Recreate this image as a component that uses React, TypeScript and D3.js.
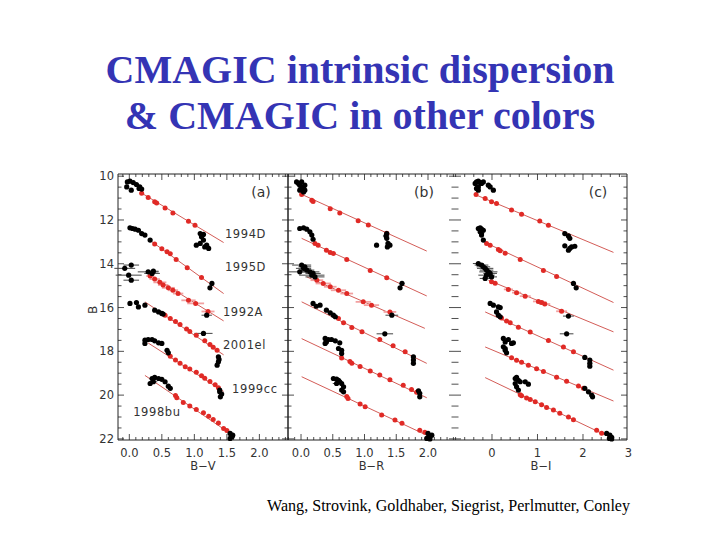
import React from "react";
import * as d3 from "d3";

type Pt = [number, number, number]; // colour, B, colour error
type Fit = [number, number, number, number]; // c0, B0, c1, B1

const SN_NAMES = ["1994D", "1995D", "1992A", "2001el", "1999cc", "1998bu"];
const B_TICKS = [10, 12, 14, 16, 18, 20, 22];
const BV_TICKS = [0, 0.5, 1, 1.5, 2];
const BR_TICKS = [0, 0.5, 1, 1.5, 2];
const BI_TICKS = [0, 1, 2, 3];
const PANEL_TAGS = ["(a)", "(b)", "(c)"];
const AXIS_TITLES = ["B\u2212V", "B\u2212R", "B\u2212I"];
const TITLE_LINES = ["CMAGIC intrinsic dispersion", "& CMAGIC in other colors"];
const CREDIT = "Wang, Strovink, Goldhaber, Siegrist, Perlmutter, Conley";

// ---------- panel (a): B vs B-V ----------
const BV_FIT: Fit[] = [
  [0.16, 10.72, 1.45, 13.03],
  [0.35, 13.0, 1.45, 15.36],
  [0.32, 14.52, 1.45, 16.61],
  [0.24, 15.74, 1.45, 18.16],
  [0.29, 17.62, 1.45, 19.83],
  [0.24, 19.1, 1.55, 21.75],
];
const BV_RED: Pt[][] = [
  [[0.19, 10.78, 0], [0.29, 10.97, 0], [0.39, 11.17, 0], [0.42, 11.22, 0], [0.55, 11.45, 0], [0.67, 11.68, 0], [0.91, 12.06, 0], [1.01, 12.24, 0]],
  [[0.39, 13.1, 0], [0.5, 13.31, 0], [0.58, 13.45, 0], [0.63, 13.54, 0], [0.72, 13.8, 0], [0.89, 14.18, 0], [1.11, 14.63, 0]],
  [[0.32, 14.56, 0.06], [0.39, 14.7, 0.08], [0.47, 14.85, 0.1], [0.52, 14.97, 0.08], [0.6, 15.1, 0.1], [0.67, 15.21, 0.08], [0.75, 15.36, 0.08], [0.91, 15.67, 0.11], [1.02, 15.81, 0.13], [1.21, 16.18, 0.1]],
  [[0.55, 16.35, 0], [0.63, 16.5, 0], [0.71, 16.64, 0], [0.78, 16.78, 0], [0.88, 16.98, 0], [0.93, 17.09, 0], [1.03, 17.26, 0], [1.16, 17.52, 0], [1.24, 17.69, 0], [1.29, 17.81, 0], [1.35, 17.95, 0]],
  [[0.63, 18.22, 0], [0.71, 18.4, 0], [0.78, 18.55, 0], [0.86, 18.7, 0], [0.93, 18.81, 0], [1.03, 18.96, 0], [1.11, 19.12, 0], [1.16, 19.23, 0], [1.24, 19.38, 0], [1.32, 19.53, 0], [1.37, 19.66, 0]],
  [[0.71, 20.02, 0], [0.73, 20.12, 0], [0.83, 20.34, 0], [0.93, 20.5, 0], [1.03, 20.66, 0], [1.14, 20.8, 0], [1.22, 20.96, 0], [1.29, 21.11, 0], [1.37, 21.27, 0], [1.45, 21.52, 0], [1.5, 21.62, 0]],
];
const BV_EARLY: Pt[][] = [
  [[-0.03, 10.26, 0], [0.01, 10.23, 0], [0.06, 10.29, 0], [0.11, 10.38, 0], [0.16, 10.49, 0], [-0.04, 10.49, 0], [0.03, 10.64, 0], [0.15, 10.56, 0], [0.19, 10.59, 0]],
  [[0.01, 12.36, 0], [0.05, 12.39, 0], [0.09, 12.42, 0], [0.14, 12.47, 0], [0.19, 12.62, 0], [0.24, 12.69, 0], [0.32, 12.92, 0]],
  [[-0.07, 14.21, 0.16], [0.03, 14.06, 0.12], [-0.01, 14.52, 0.2], [0.03, 14.75, 0.12], [0.29, 14.37, 0.16], [0.35, 14.44, 0.12], [0.37, 14.34, 0.08]],
  [[0.01, 15.81, 0], [0.11, 15.77, 0], [0.14, 15.97, 0], [0.24, 15.89, 0], [0.39, 16.12, 0], [0.45, 16.2, 0], [0.5, 16.27, 0], [0.52, 16.3, 0]],
  [[0.24, 17.64, 0], [0.24, 17.49, 0], [0.29, 17.46, 0], [0.35, 17.46, 0], [0.39, 17.52, 0], [0.45, 17.61, 0], [0.5, 17.64, 0], [0.58, 17.95, 0], [0.6, 18.07, 0]],
  [[0.35, 19.24, 0], [0.39, 19.19, 0], [0.45, 19.24, 0], [0.5, 19.28, 0], [0.55, 19.39, 0], [0.6, 19.59, 0], [0.63, 19.69, 0], [0.37, 19.39, 0.06], [0.32, 19.47, 0]],
];
const BV_LATE: Pt[][] = [
  [[1.09, 12.62, 0], [1.11, 12.77, 0], [1.14, 12.66, 0.04], [1.03, 13.15, 0], [1.16, 13.23, 0], [1.22, 13.3, 0], [1.14, 12.92, 0], [1.19, 13.15, 0], [1.09, 13.07, 0]],
  [[1.27, 14.9, 0.03], [1.24, 15.1, 0]],
  [[1.19, 16.35, 0.08]],
  [[1.14, 17.18, 0.14], [1.37, 18.25, 0], [1.37, 18.48, 0], [1.35, 18.63, 0], [1.38, 18.37, 0]],
  [[1.39, 19.77, 0], [1.42, 19.95, 0], [1.4, 20.08, 0], [1.39, 19.85, 0]],
  [[1.55, 21.75, 0], [1.58, 21.9, 0], [1.55, 21.98, 0], [1.59, 21.83, 0]],
];

// ---------- panel (b): B vs B-R ----------
const BR_FIT: Fit[] = [
  [-0.02, 10.79, 1.98, 13.42],
  [0.01, 12.84, 1.98, 15.47],
  [0.09, 14.6, 1.95, 16.95],
  [0.01, 15.74, 1.98, 18.55],
  [0.01, 17.42, 1.98, 20.12],
  [0.01, 19.16, 2.03, 21.9],
];
const BR_RED: Pt[][] = [
  [[0.01, 10.84, 0], [0.17, 11.1, 0], [0.19, 11.16, 0], [0.46, 11.49, 0], [0.61, 11.68, 0], [0.9, 12.03, 0], [1.06, 12.23, 0], [1.35, 12.61, 0]],
  [[0.22, 13.07, 0], [0.27, 13.15, 0], [0.4, 13.38, 0], [0.46, 13.48, 0], [0.51, 13.53, 0], [0.72, 13.8, 0], [1.09, 14.31, 0], [1.35, 14.64, 0]],
  [[0.25, 14.75, 0.1], [0.35, 14.9, 0.12], [0.46, 15.05, 0.1], [0.59, 15.21, 0.12], [0.72, 15.36, 0.1], [0.98, 15.74, 0.12], [1.11, 15.89, 0.12], [1.4, 16.2, 0.1]],
  [[0.59, 16.5, 0], [0.67, 16.7, 0], [0.8, 16.91, 0], [0.96, 17.11, 0], [1.24, 17.46, 0], [1.45, 17.75, 0], [1.64, 18.02, 0]],
  [[0.64, 18.3, 0], [0.77, 18.47, 0], [0.8, 18.54, 0], [0.93, 18.69, 0], [1.09, 18.9, 0], [1.24, 19.08, 0], [1.4, 19.3, 0], [1.61, 19.55, 0], [1.74, 19.74, 0], [1.82, 19.87, 0]],
  [[0.72, 20.06, 0], [0.74, 20.15, 0], [0.93, 20.41, 0], [1.01, 20.53, 0], [1.27, 20.91, 0], [1.48, 21.14, 0], [1.59, 21.29, 0], [1.87, 21.6, 0], [1.95, 21.7, 0]],
];
const BR_EARLY: Pt[][] = [
  [[-0.07, 10.26, 0], [-0.04, 10.33, 0], [-0.02, 10.41, 0], [0.01, 10.49, 0], [0.04, 10.56, 0], [0.06, 10.64, 0], [0.04, 10.72, 0], [-0.02, 10.64, 0], [0.01, 10.26, 0], [0.06, 10.41, 0]],
  [[-0.02, 12.39, 0], [0.04, 12.36, 0], [0.09, 12.42, 0], [0.14, 12.54, 0], [0.17, 12.69, 0], [0.19, 12.88, 0]],
  [[0.01, 14.06, 0.15], [0.04, 14.21, 0.12], [-0.02, 14.37, 0.18], [0.06, 14.14, 0.1], [0.14, 14.37, 0.15], [0.17, 14.52, 0.2], [0.19, 14.44, 0.12], [0.22, 14.6, 0.15], [0.09, 14.29, 0.12]],
  [[0.19, 15.81, 0], [0.24, 15.94, 0], [0.3, 15.89, 0], [0.4, 16.12, 0], [0.46, 16.24, 0], [0.51, 16.35, 0], [0.54, 16.42, 0]],
  [[0.38, 17.41, 0], [0.4, 17.57, 0], [0.43, 17.46, 0], [0.48, 17.46, 0], [0.54, 17.52, 0], [0.61, 17.61, 0], [0.59, 17.87, 0], [0.64, 17.95, 0], [0.64, 18.1, 0], [0.38, 17.64, 0]],
  [[0.51, 19.24, 0], [0.56, 19.27, 0], [0.59, 19.32, 0], [0.61, 19.39, 0], [0.64, 19.47, 0], [0.67, 19.62, 0], [0.64, 19.77, 0], [0.67, 19.85, 0], [0.56, 19.47, 0.06]],
];
const BR_LATE: Pt[][] = [
  [[1.35, 12.62, 0], [1.35, 12.84, 0], [1.37, 13.07, 0], [1.36, 13.23, 0], [1.19, 13.15, 0], [1.4, 13.15, 0], [1.34, 12.73, 0.05]],
  [[1.59, 14.9, 0.04], [1.56, 15.1, 0]],
  [[1.43, 16.35, 0.1]],
  [[1.32, 17.2, 0.13], [1.77, 18.25, 0], [1.77, 18.4, 0], [1.77, 18.55, 0]],
  [[1.87, 19.92, 0], [1.85, 19.8, 0], [1.87, 20.08, 0]],
  [[2.0, 21.75, 0], [2.03, 21.9, 0], [2.06, 21.83, 0], [1.98, 21.98, 0], [2.03, 22.0, 0]],
];

// ---------- panel (c): B vs B-I ----------
const BI_FIT: Fit[] = [
  [-0.37, 10.84, 2.67, 13.48],
  [-0.15, 13.03, 2.67, 15.77],
  [-0.08, 14.75, 2.67, 17.11],
  [-0.15, 16.2, 2.67, 18.86],
  [-0.15, 17.8, 2.67, 20.27],
  [-0.15, 19.2, 2.59, 21.92],
];
const BI_RED: Pt[][] = [
  [[-0.35, 10.84, 0], [-0.15, 11.02, 0], [-0.01, 11.17, 0], [0.1, 11.25, 0], [0.43, 11.55, 0], [0.65, 11.74, 0], [1.05, 12.05, 0], [1.24, 12.24, 0]],
  [[-0.12, 13.07, 0], [-0.04, 13.15, 0], [0.14, 13.35, 0], [0.18, 13.4, 0], [0.29, 13.52, 0], [0.62, 13.81, 0], [1.13, 14.31, 0], [1.42, 14.58, 0]],
  [[-0.01, 14.82, 0], [0.07, 14.89, 0], [0.36, 15.17, 0.1], [0.54, 15.32, 0.1], [0.73, 15.48, 0.12], [1.02, 15.72, 0.12], [1.09, 15.77, 0.12], [1.16, 15.84, 0.12], [1.53, 16.17, 0.12]],
  [[0.21, 16.48, 0], [0.32, 16.61, 0], [0.4, 16.69, 0], [0.58, 16.9, 0], [0.84, 17.12, 0], [1.24, 17.5, 0], [1.57, 17.8, 0], [1.79, 18.02, 0]],
  [[0.43, 18.29, 0], [0.54, 18.41, 0], [0.65, 18.5, 0], [0.8, 18.64, 0], [0.98, 18.8, 0], [1.13, 18.92, 0], [1.42, 19.18, 0], [1.64, 19.37, 0], [1.9, 19.58, 0], [2.01, 19.69, 0]],
  [[0.62, 19.98, 0], [0.65, 20.03, 0], [0.76, 20.13, 0], [0.84, 20.2, 0], [0.95, 20.3, 0], [1.09, 20.44, 0], [1.2, 20.57, 0], [1.35, 20.68, 0], [1.49, 20.83, 0], [1.68, 21.0, 0], [1.79, 21.12, 0], [2.3, 21.61, 0], [2.41, 21.74, 0]],
];
const BI_EARLY: Pt[][] = [
  [[-0.37, 10.33, 0], [-0.34, 10.26, 0], [-0.3, 10.23, 0], [-0.26, 10.29, 0], [-0.23, 10.33, 0], [-0.19, 10.26, 0], [-0.3, 10.49, 0], [-0.3, 10.64, 0], [-0.34, 10.56, 0], [-0.08, 10.41, 0], [-0.04, 10.49, 0], [0.03, 10.64, 0]],
  [[-0.3, 12.39, 0], [-0.26, 12.36, 0], [-0.23, 12.42, 0], [-0.19, 12.47, 0], [-0.26, 12.54, 0], [-0.23, 12.62, 0], [-0.23, 12.69, 0], [-0.19, 12.92, 0]],
  [[-0.3, 13.99, 0.12], [-0.23, 14.06, 0.15], [-0.19, 14.14, 0.15], [-0.15, 14.21, 0.18], [-0.12, 14.29, 0.15], [-0.08, 14.37, 0.2], [-0.04, 14.44, 0.15], [-0.12, 14.52, 0.18], [-0.01, 14.6, 0.12], [-0.15, 14.67, 0.12]],
  [[-0.04, 15.81, 0], [0.03, 15.89, 0], [0.14, 15.97, 0], [0.18, 16.0, 0], [0.1, 16.2, 0], [0.14, 16.35, 0], [0.18, 16.42, 0]],
  [[0.25, 17.41, 0], [0.29, 17.57, 0], [0.36, 17.46, 0], [0.43, 17.64, 0], [0.47, 17.61, 0], [0.25, 17.79, 0], [0.29, 17.95, 0], [0.32, 18.07, 0], [0.29, 17.87, 0]],
  [[0.51, 19.24, 0], [0.54, 19.19, 0], [0.58, 19.32, 0], [0.51, 19.47, 0], [0.54, 19.62, 0], [0.58, 19.77, 0], [0.62, 19.39, 0], [0.73, 19.39, 0], [0.8, 19.5, 0.05]],
];
const BI_LATE: Pt[][] = [
  [[1.6, 12.62, 0], [1.68, 12.73, 0], [1.71, 12.84, 0], [1.6, 13.18, 0], [1.75, 13.23, 0], [1.82, 13.2, 0], [1.68, 13.38, 0], [1.71, 13.3, 0]],
  [[1.79, 14.9, 0], [1.85, 15.1, 0]],
  [[1.68, 16.39, 0.12]],
  [[1.64, 17.2, 0.15], [2.04, 18.28, 0], [2.15, 18.4, 0], [2.15, 18.55, 0], [2.15, 18.68, 0]],
  [[2.04, 19.69, 0], [2.12, 19.85, 0], [2.19, 20.0, 0], [2.21, 20.08, 0]],
  [[2.52, 21.75, 0], [2.59, 21.83, 0], [2.63, 21.93, 0], [2.58, 21.98, 0], [2.63, 22.0, 0]],
];

// label anchors for panel (a): colour, B
const SN_LABEL_POS: [number, number][] = [
  [1.47, 12.82],
  [1.47, 14.34],
  [1.44, 16.38],
  [1.44, 17.88],
  [1.58, 19.9],
  [0.06, 20.95],
];

// ---------- layout ----------
const FONT_SANS = "'DejaVu Sans', 'Liberation Sans', sans-serif";
const FONT_SERIF = "'Liberation Serif', 'Times New Roman', serif";
const RED = "#e02a26";
const FIT_RED = "#c8322c";

interface PanelSpec {
  x0: number;
  x1: number;
  domain: [number, number];
  ticks: number[];
  minorStep: number;
  fmt: (n: number) => string;
  fits: Fit[];
  red: Pt[][];
  early: Pt[][];
  late: Pt[][];
  title: string;
  tag: string;
  tagX: number;
  leftLine: boolean;
  rightLine: boolean;
}

const TOP = 174;
const BOTTOM = 440;

function Panel({ p, y, showY }: { p: PanelSpec; y: d3.ScaleLinear<number, number>; showY: boolean }) {
  const x = d3.scaleLinear().domain(p.domain).range([p.x0, p.x1]);
  const yMinor = d3.range(20, 45).map((i) => i * 0.5);
  const i0 = Math.ceil(p.domain[0] / p.minorStep - 1e-6);
  const i1 = Math.floor(p.domain[1] / p.minorStep + 1e-6);
  const xMinor = d3.range(i0, i1 + 1).map((i) => i * p.minorStep);
  const axisCol = "#222";
  const errbars = (pts: Pt[][], col: string, w: number) =>
    pts.flat().filter((d) => d[2] > 0).map((d, i) => (
      <line key={i} x1={x(d[0] - d[2])} x2={x(d[0] + d[2])} y1={y(d[1])} y2={y(d[1])} stroke={col} strokeWidth={w} />
    ));
  return (
    <g>
      <line x1={p.x0} x2={p.x1} y1={TOP} y2={TOP} stroke={axisCol} strokeWidth={1} />
      <line x1={p.x0} x2={p.x1} y1={BOTTOM} y2={BOTTOM} stroke={axisCol} strokeWidth={1} />
      {p.leftLine && <line x1={p.x0} x2={p.x0} y1={TOP} y2={BOTTOM} stroke={axisCol} strokeWidth={1} />}
      {p.rightLine && <line x1={p.x1} x2={p.x1} y1={TOP} y2={BOTTOM} stroke={axisCol} strokeWidth={1} />}
      {yMinor.map((v) => {
        const major = v % 2 === 0;
        const L = major ? 6 : 3.5;
        return (
          <g key={"y" + v}>
            <line x1={p.x0} x2={p.x0 + L} y1={y(v)} y2={y(v)} stroke={axisCol} strokeWidth={0.8} />
            <line x1={p.x1} x2={p.x1 - L} y1={y(v)} y2={y(v)} stroke={axisCol} strokeWidth={0.8} />
          </g>
        );
      })}
      {xMinor.map((v, i) => {
        const major = p.ticks.some((t) => Math.abs(t - v) < 1e-6);
        const L = major ? 6 : 3;
        return (
          <g key={"x" + i}>
            <line x1={x(v)} x2={x(v)} y1={BOTTOM} y2={BOTTOM - L} stroke={axisCol} strokeWidth={0.8} />
            <line x1={x(v)} x2={x(v)} y1={TOP} y2={TOP + L} stroke={axisCol} strokeWidth={0.8} />
          </g>
        );
      })}
      {p.ticks.map((t) => (
        <text key={"xl" + t} x={x(t)} y={457} textAnchor="middle" fontFamily={FONT_SANS} fontSize={11.5} fill="#333">
          {p.fmt(t)}
        </text>
      ))}
      <text x={(p.x0 + p.x1) / 2} y={470} textAnchor="middle" fontFamily={FONT_SANS} fontSize={11.5} fill="#333">
        {p.title}
      </text>
      {showY &&
        B_TICKS.map((t) => (
          <text key={"yl" + t} x={p.x0 - 4} y={y(t) + 4} textAnchor="end" fontFamily={FONT_SANS} fontSize={11.5} fill="#333">
            {t}
          </text>
        ))}
      <text x={p.tagX} y={197} textAnchor="middle" fontFamily={FONT_SANS} fontSize={14} fill="#333">
        {p.tag}
      </text>
      {p.fits.map((f, i) => (
        <line key={"f" + i} x1={x(f[0])} y1={y(f[1])} x2={x(f[2])} y2={y(f[3])} stroke={FIT_RED} strokeWidth={0.8} />
      ))}
      {errbars(p.red, "#f2a0a0", 1.8)}
      {errbars([...p.early, ...p.late], "#444", 1)}
      {p.red.flat().map((d, i) => (
        <circle key={"r" + i} cx={x(d[0])} cy={y(d[1])} r={2.5} fill={RED} />
      ))}
      {[...p.early, ...p.late].flat().map((d, i) => (
        <circle key={"k" + i} cx={x(d[0])} cy={y(d[1])} r={2.6} fill="#000" />
      ))}
    </g>
  );
}

export default function App() {
  const y = d3.scaleLinear().domain([9.9, 22.05]).range([TOP, BOTTOM]);
  const f1 = d3.format(".1f");
  const f0 = d3.format("d");
  const panels: PanelSpec[] = [
    { x0: 118, x1: 288, domain: [-0.174, 2.44], ticks: BV_TICKS, minorStep: 0.1, fmt: f1, fits: BV_FIT, red: BV_RED, early: BV_EARLY, late: BV_LATE, title: AXIS_TITLES[0], tag: PANEL_TAGS[0], tagX: 261, leftLine: true, rightLine: true },
    { x0: 288, x1: 455, domain: [-0.205, 2.425], ticks: BR_TICKS, minorStep: 0.1, fmt: f1, fits: BR_FIT, red: BR_RED, early: BR_EARLY, late: BR_LATE, title: AXIS_TITLES[1], tag: PANEL_TAGS[1], tagX: 424, leftLine: true, rightLine: false },
    { x0: 455, x1: 627, domain: [-0.813, 2.967], ticks: BI_TICKS, minorStep: 0.2, fmt: f0, fits: BI_FIT, red: BI_RED, early: BI_EARLY, late: BI_LATE, title: AXIS_TITLES[2], tag: PANEL_TAGS[2], tagX: 598, leftLine: false, rightLine: true },
  ];
  const xa = d3.scaleLinear().domain(panels[0].domain).range([panels[0].x0, panels[0].x1]);
  return (
    <svg width={720} height={540} style={{ position: "absolute", left: 0, top: 0, background: "#fff" }}>
      <rect width={720} height={540} fill="#fff" />
      <text x={360} y={83} textAnchor="middle" fontFamily={FONT_SERIF} fontWeight="bold" fontSize={40} fill="#3434b4">
        {TITLE_LINES[0]}
      </text>
      <text x={360} y={129} textAnchor="middle" fontFamily={FONT_SERIF} fontWeight="bold" fontSize={40} fill="#3434b4">
        {TITLE_LINES[1]}
      </text>
      {panels.map((p, i) => (
        <Panel key={i} p={p} y={y} showY={i === 0} />
      ))}
      {SN_NAMES.map((n, i) => (
        <text key={n} x={xa(SN_LABEL_POS[i][0])} y={y(SN_LABEL_POS[i][1])} fontFamily={FONT_SANS} fontSize={11.5} fill="#333" letterSpacing={0.6}>
          {n}
        </text>
      ))}
      <text x={0} y={0} transform="translate(97,310) rotate(-90)" textAnchor="middle" fontFamily={FONT_SANS} fontSize={12} fill="#333">
        B
      </text>
      <text x={267} y={511} fontFamily={FONT_SERIF} fontSize={16.1} fill="#000">
        {CREDIT}
      </text>
    </svg>
  );
}
